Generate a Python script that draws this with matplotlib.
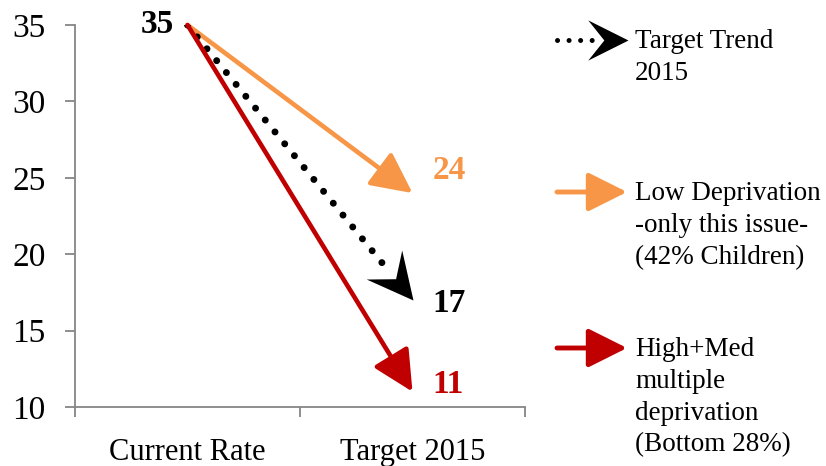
import matplotlib
matplotlib.use("Agg")
import matplotlib.pyplot as plt
import numpy as np
from matplotlib.path import Path
from matplotlib.markers import MarkerStyle
from matplotlib.patches import FancyArrowPatch

# fonte et cibles
periods = ["Current Rate", "Target 2015"]
start_rate = 35
series_names = ["Low Deprivation\n-only this issue-\n(42% Children)",
                "Target Trend\n2015",
                "High+Med\nmultiple\ndeprivation\n(Bottom 28%)"]
targets = [24, 17, 11]
colors = ["#f79646", "#000000", "#c00000"]
yticks = [10, 15, 20, 25, 30, 35]

SERIF = ["Liberation Serif", "DejaVu Serif"]
AXIS = "#868686"
DOTS = (0, (0.01, 2.2))
plt.rcParams["font.family"] = SERIF

fig = plt.figure(figsize=(8.26, 4.66), dpi=100)
ax = fig.add_axes([75 / 826, 59 / 466, 450 / 826, 382 / 466])
ax.set_xlim(0, 2)
ax.set_ylim(10, 35)
for s in ["top", "right"]:
    ax.spines[s].set_visible(False)
for s in ["left", "bottom"]:
    ax.spines[s].set_color(AXIS)
    ax.spines[s].set_linewidth(1.3)
ax.set_yticks(yticks)
ax.tick_params(axis="y", length=7, width=1.3, color=AXIS, labelsize=24, pad=14)
ax.set_xticks([0, 1, 2])
ax.set_xticklabels([])
ax.tick_params(axis="x", length=7, width=1.3, color=AXIS)
for i, p in enumerate(periods):
    ax.text(i + 0.5, -0.08, p, transform=ax.get_xaxis_transform(),
            ha="center", va="top", fontsize=22)

x0, x1 = 0.5, 1.5

# pointe "stealth" vers la droite, pointe en (0, 0)
STEALTH = np.array([(0, 0), (-1.0, 0.5), (-0.6, 0), (-1.0, -0.5), (0, 0)])
CODES = [Path.MOVETO, Path.LINETO, Path.LINETO, Path.LINETO, Path.CLOSEPOLY]


def stealth_marker(ang):
    c, s = np.cos(ang), np.sin(ang)
    rot = STEALTH @ np.array([[c, s], [-s, c]])
    return MarkerStyle(Path(rot, CODES))


for tgt, col in zip(targets, colors):
    if col != "#000000":
        ax.annotate("", xy=(x1, tgt), xytext=(x0, start_rate),
                    arrowprops=dict(arrowstyle="-|>,head_length=1.25,head_width=0.62",
                                    mutation_scale=20, color=col, lw=3.3,
                                    shrinkA=0, shrinkB=0),
                    annotation_clip=False, zorder=3)
    else:
        frac = 0.88
        xe = x0 + (x1 - x0) * frac
        ye = start_rate + (tgt - start_rate) * frac
        ax.plot([x0, xe], [start_rate, ye], color=col, lw=5,
                linestyle=DOTS, dash_capstyle="round", zorder=3)
        pa = ax.transData.transform((x0, start_rate))
        pb = ax.transData.transform((x1, tgt))
        ang = np.arctan2(pb[1] - pa[1], pb[0] - pa[0])
        ax.plot([x1], [tgt], marker=stealth_marker(ang), markersize=72,
                color=col, markeredgewidth=0, clip_on=False, zorder=4)

ax.text(x0 - 0.06, start_rate, str(start_rate), ha="right", va="center",
        fontsize=24, fontweight="bold", color="#000000")
for tgt, col, dy in zip(targets, colors, [1.5, -0.2, 0.45]):
    ax.text(x1 + 0.09, tgt + dy, str(tgt), ha="left", va="center",
            fontsize=24, fontweight="bold", color=col)

# légende
leg_y = [192, 40, 348]
for name, col, y in zip(series_names, colors, leg_y):
    yf = 1 - y / 466
    if col == "#000000":
        fig.add_artist(plt.Line2D([557 / 826, 600 / 826], [yf, yf], color=col, lw=3.6,
                                  linestyle=(0, (0.01, 2.3)), dash_capstyle="round"))
        fig.add_artist(plt.Line2D([628 / 826], [yf], marker=stealth_marker(0),
                                  markersize=58, color=col, markeredgewidth=0))
    else:
        fig.add_artist(FancyArrowPatch(
            (557 / 826, yf), (627 / 826, yf), transform=fig.transFigure,
            arrowstyle="-|>,head_length=1.2,head_width=0.6", mutation_scale=20,
            color=col, lw=3.5, shrinkA=0, shrinkB=0, capstyle="round"))
    fig.text(635 / 826, yf + 11 / 466, name, ha="left", va="top", fontsize=19.5,
             linespacing=1.36, color="#000000")

fig.savefig("out.png", dpi=100)
